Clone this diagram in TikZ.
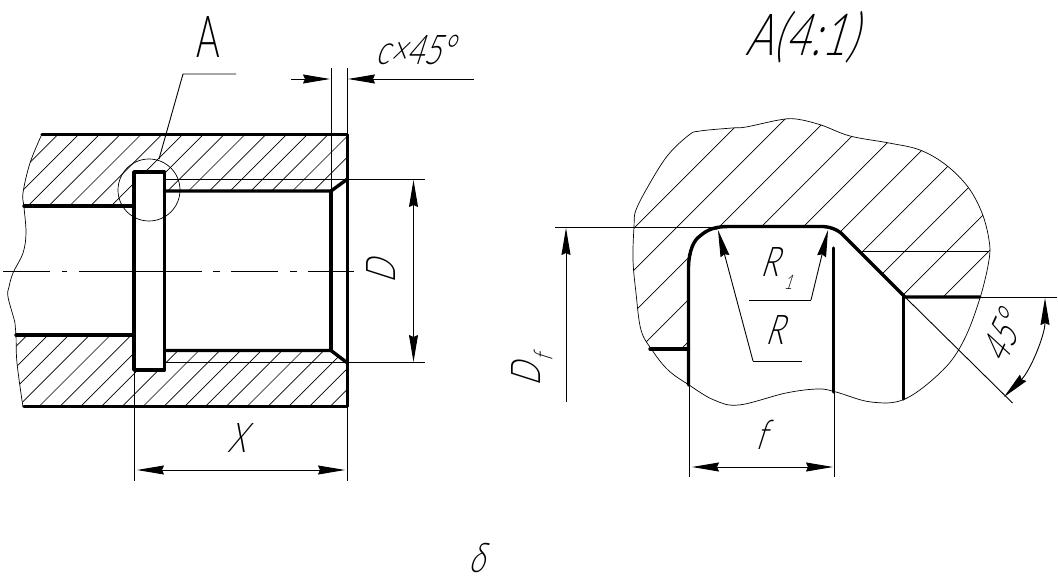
\documentclass[tikz,border=0pt]{standalone}
\usepackage{fontspec}
\usetikzlibrary{arrows.meta}
\newfontfamily\gostup[FakeStretch=.62]{Lato Light}
\newfontfamily\gostsl[FakeStretch=.72,FakeSlant=.32]{Lato Light}
\newfontfamily\gostwide[FakeStretch=.72,FakeSlant=.3,LetterSpace=1.5]{Lato Light}
\tikzset{
  thick line/.style={line width=3.4pt,line cap=round,line join=round},
  thin line/.style={line width=.9pt},
  hair line/.style={line width=.7pt},
  dimarrow/.style={thin line,{Stealth[length=27pt,width=9pt,inset=2pt]}-{Stealth[length=27pt,width=9pt,inset=2pt]}},
  startarrow/.style={thin line,{Stealth[length=27pt,width=9pt,inset=2pt]}-},
  endarrow/.style={thin line,-{Stealth[length=27pt,width=9pt,inset=2pt]}},
  lab/.style={inner sep=0pt,font=\gostsl\fontsize{41}{41}\selectfont},
}
\begin{document}
\begin{tikzpicture}[x=1pt,y=-1pt]
\useasboundingbox (0,0) rectangle (1058,583);
% ---- left view hatching
\begin{scope}
\clip (42,134) -- (30,163) -- (23,193) -- (24,206) -- (134,206) -- (134,172) -- (164,172) -- (164,191) -- (331,191) -- (347,179) -- (347,134) -- cycle;
\foreach \k in {-14,...,5}{
  \pgfmathsetmacro{\c}{462.7+20.8*\k}
  \draw[hair line] (\c-100,100) -- (\c-450,450);
}
\end{scope}
\begin{scope}
\clip (16,335) -- (17,363) -- (23,407) -- (347,407) -- (347,363) -- (331,350) -- (164,350) -- (164,370) -- (134,370) -- (134,335) -- cycle;
\foreach \k in {-19,...,2}{
  \pgfmathsetmacro{\c}{736.7+20.8*\k}
  \draw[hair line] (\c-100,100) -- (\c-450,450);
}
\end{scope}
% break line
\draw[hair line] plot[smooth,tension=.6] coordinates {(42,134) (30,163) (23,193) (24,207) (26,233) (23,253) (13,273) (9,287) (8,297) (15,323) (16,335) (17,363) (23,407)};
% thick outline left
\draw[thick line] (42,134.5) -- (347.5,134.5) -- (347.5,406.5) -- (24,406.5);
\draw[thick line] (24,206) -- (134,206);
\draw[thick line] (16,335) -- (134,335);
\draw[thick line] (134,172) rectangle (164.5,370);
\draw[thick line] (164.5,191) -- (331,191) -- (347.5,179);
\draw[thick line] (164.5,350.5) -- (331,350.5) -- (347.5,363);
\draw[thick line] (331,191) -- (331,350.5);
% thin left
\draw[thin line] (331.5,68) -- (331.5,191);
\draw[thin line] (347.5,68) -- (347.5,134);
\draw[thin line] (165,179.5) -- (425,179.5);
\draw[thin line] (165,362.5) -- (425,362.5);
\draw[thin line] (134.5,370) -- (134.5,481);
\draw[thin line] (347.5,407) -- (347.5,481);
% detail circle and leader
\draw[hair line] (149,190) circle[radius=31pt];
\draw[thin line] (159,159) -- (183,74) -- (236,74);
% centre line
\foreach \a/\b in {3/50,62/67,79/202,213/220,231/278,290/297,308/354}{
  \draw[thin line] (\a,271) -- (\b,271);
}
% left dimensions
\draw[thin line] (291,79) -- (302,79);
\draw[endarrow] (302,79) -- (330,79);
\draw[startarrow] (348,79) -- (376,79);
\draw[thin line] (376,79) -- (474,79);
\draw[dimarrow] (413.5,180) -- (413.5,362);
\draw[dimarrow] (137,470) -- (345,470);
% left labels
\node[inner sep=0pt,font=\gostup\fontsize{58}{58}\selectfont] (lA) at (208,37) {A};
\node[lab] (lc) at (414,50) {c×45°};
\node[lab,rotate=90] (lD) at (381,272) {D};
\node[lab] (lX) at (237,438) {X};
\node[lab] (ldelta) at (476,558) {δ};
\node[inner sep=0pt,font=\gostwide\fontsize{58}{58}\selectfont] (lAA) at (801,37) {A(4:1)};
% ---- right view hatching
\begin{scope}
\clip plot[smooth cycle,tension=.6] coordinates {(634,227) (636,210) (650,183) (668,155) (689,135) (700,131) (732,128) (746,127) (779,120) (796,119) (821,125) (850,136) (889,143) (920,150) (946,165) (968,187) (982,213) (989,240) (989,260) (980,298) (964,340) (943,370) (905,399) (871,402) (836,392) (818,389) (786,393) (739,405) (714,400) (689,385) (668,370) (652,350) (641,330) (636,293) (633,260)};
\clip (600,100) -- (1000,100) -- (1000,297) -- (905,297) -- (848,240) -- (839,232) -- (823,226.5) -- (729,226.5) -- (707,232) -- (695,243) -- (688,267) -- (688,349) -- (600,349) -- cycle;
\foreach \k in {0,...,9}{
  \pgfmathsetmacro{\c}{862+42*\k}
  \draw[hair line] (\c-80,80) -- (\c-420,420);
}
\end{scope}
\draw[hair line] plot[smooth cycle,tension=.6] coordinates {(634,227) (636,210) (650,183) (668,155) (689,135) (700,131) (732,128) (746,127) (779,120) (796,119) (821,125) (850,136) (889,143) (920,150) (946,165) (968,187) (982,213) (989,240) (989,260) (980,298) (964,340) (943,370) (905,399) (871,402) (836,392) (818,389) (786,393) (739,405) (714,400) (689,385) (668,370) (652,350) (641,330) (636,293) (633,260)};
% thick profile
\draw[thick line] (688.5,385) -- (688.5,267) .. controls (689,250) and (694,240) .. (700,236) .. controls (708,229) and (716,226.5) .. (729,226.5) -- (823,226.5) .. controls (830,227) and (836,229) .. (841,233) -- (905,297) -- (980,297);
\draw[thick line] (903.5,297) -- (903.5,399);
\draw[thick line] (650,349) -- (688.5,349);
\draw[thick line] (833.5,248) -- (833.5,392);
% thin right
\draw[thin line] (555,227) -- (716,227);
\draw[thin line] (862,251) -- (989,251);
\draw[thin line] (980,297.5) -- (1057,297.5);
\draw[thin line] (905,297) -- (1012.5,403);
\draw[thin line] (689,385) -- (689,477);
\draw[thin line] (834.5,392) -- (834.5,477);
\draw[startarrow] (566,228) -- (566,402);
\draw[dimarrow] (692,467) -- (833,467);
\draw[startarrow] (828,230) -- (811,300);
\draw[thin line] (811,300) -- (749,300);
\draw[startarrow] (718,230) -- (753,361);
\draw[thin line] (753,361) -- (802,361);
\draw[thin line,{Stealth[length=27pt,width=9pt,inset=2pt]}-{Stealth[length=27pt,width=9pt,inset=2pt]}] (1045,298) arc[start angle=0,end angle=-45,radius=140pt];
% right labels
\node[lab] (lR1) at (769,262) {R};
\node[inner sep=0pt,font=\gostsl\fontsize{20}{20}\selectfont] (lone) at (788,282) {1};
\node[lab] (lR) at (774,330) {R};
\node[lab] (lf) at (761,435) {f};
\node[lab,rotate=90] (lDf) at (526,375) {D};
\node[inner sep=0pt,rotate=90,font=\gostsl\fontsize{26}{26}\selectfont] (lsubf) at (543,358) {f};
\node[lab,rotate=65] (l45) at (1002,338) {45°};
\end{tikzpicture}
\end{document}
